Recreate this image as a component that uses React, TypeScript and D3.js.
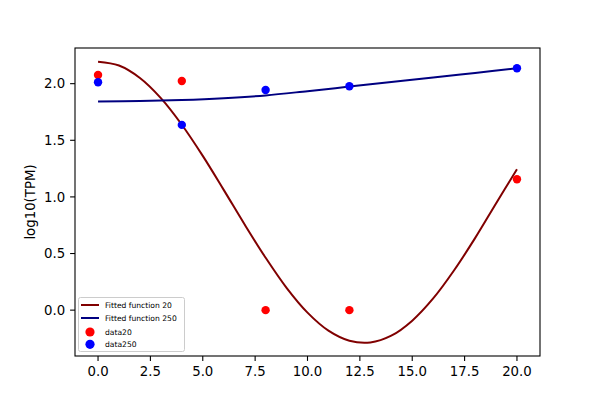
import React from "react";
import * as d3 from "d3";

const fitX = [0, 1, 2, 3, 4, 5, 6, 7, 8, 9, 10, 11, 12, 13, 14, 15, 16, 17, 18, 19, 20];
const fit20 = [2.194, 2.16, 2.05, 1.872, 1.637, 1.362, 1.062, 0.756, 0.463, 0.197, -0.022, -0.181, -0.27, -0.285, -0.226, -0.093, 0.103, 0.352, 0.636, 0.942, 1.244];
const fit250X = [0, 2, 4, 6, 8, 10, 12, 14, 16, 18, 20];
const fit250 = [1.843, 1.846, 1.855, 1.871, 1.896, 1.934, 1.974, 2.014, 2.054, 2.095, 2.136];
const dataX = [0, 4, 8, 12, 20];
const data20 = [2.077, 2.024, 0, 0, 1.156];
const data250 = [2.012, 1.636, 1.944, 1.977, 2.136];
const xTicks = [0, 2.5, 5, 7.5, 10, 12.5, 15, 17.5, 20];
const yTicks = [0, 0.5, 1, 1.5, 2];
const legendLabels = ["Fitted function 20", "Fitted function 250", "data20", "data250"];

const W = 600, H = 400;
const L = 75, R = 540, T = 48, B = 356;
const FONT = "DejaVu Sans, sans-serif";

export default function App() {
  const x = d3.scaleLinear().domain([-1.1, 21.1]).range([L, R]);
  const y = d3.scaleLinear().domain([-0.405, 2.315]).range([B, T]);
  const line = d3
    .line<[number, number]>()
    .x((d) => x(d[0]))
    .y((d) => y(d[1]))
    .curve(d3.curveCatmullRom);
  const red = line(fitX.map((v, i) => [v, fit20[i]]) as [number, number][]) || "";
  const blue = line(fit250X.map((v, i) => [v, fit250[i]]) as [number, number][]) || "";

  const lx = 78.5, ly = 297.5, lw = 106, lh = 54;
  const rows = [305, 318, 332, 344.3];
  const fs = 7.6;

  return (
    <svg width={W} height={H} style={{ position: "absolute", left: 0, top: 0, background: "#fff" }}>
      <rect x={0} y={0} width={W} height={H} fill="#fff" />
      <defs>
        <clipPath id="plot">
          <rect x={L} y={T} width={R - L} height={B - T} />
        </clipPath>
      </defs>
      <g clipPath="url(#plot)">
        <path d={red} fill="none" stroke="#800000" strokeWidth={2} />
        <path d={blue} fill="none" stroke="#000080" strokeWidth={2} />
        {dataX.map((v, i) => (
          <circle key={"r" + i} cx={x(v)} cy={y(data20[i])} r={4.2} fill="#ff0000" />
        ))}
        {dataX.map((v, i) => (
          <circle key={"b" + i} cx={x(v)} cy={y(data250[i])} r={4.2} fill="#0000ff" />
        ))}
      </g>
      <rect x={L} y={T} width={R - L} height={B - T} fill="none" stroke="#000" strokeWidth={1.1} />
      {xTicks.map((t) => (
        <g key={"x" + t}>
          <line x1={x(t)} x2={x(t)} y1={B} y2={B + 4.9} stroke="#000" strokeWidth={1.1} />
          <text x={x(t)} y={B + 9.8} dy="0.76em" textAnchor="middle" fontFamily={FONT} fontSize={13.3} fill="#000">
            {t.toFixed(1)}
          </text>
        </g>
      ))}
      {yTicks.map((t) => (
        <g key={"y" + t}>
          <line x1={L - 4.9} x2={L} y1={y(t)} y2={y(t)} stroke="#000" strokeWidth={1.1} />
          <text x={L - 9.8} y={y(t)} dy="0.36em" textAnchor="end" fontFamily={FONT} fontSize={13.3} fill="#000">
            {t.toFixed(1)}
          </text>
        </g>
      ))}
      <text
        transform={`translate(35,${(T + B) / 2}) rotate(-90)`}
        textAnchor="middle"
        fontFamily={FONT}
        fontSize={13.3}
        fill="#000"
      >
        log10(TPM)
      </text>
      <rect x={lx} y={ly} width={lw} height={lh} rx={2} fill="#fff" fillOpacity={0.8} stroke="#cccccc" strokeWidth={1} />
      <line x1={81} x2={99} y1={rows[0]} y2={rows[0]} stroke="#800000" strokeWidth={2} />
      <line x1={81} x2={99} y1={rows[1]} y2={rows[1]} stroke="#000080" strokeWidth={2} />
      <circle cx={90} cy={rows[2]} r={4.6} fill="#ff0000" />
      <circle cx={90} cy={rows[3]} r={4.6} fill="#0000ff" />
      {legendLabels.map((s, i) => (
        <text key={s} x={105} y={rows[i]} dy="0.36em" fontFamily={FONT} fontSize={fs} fill="#000">
          {s}
        </text>
      ))}
    </svg>
  );
}
